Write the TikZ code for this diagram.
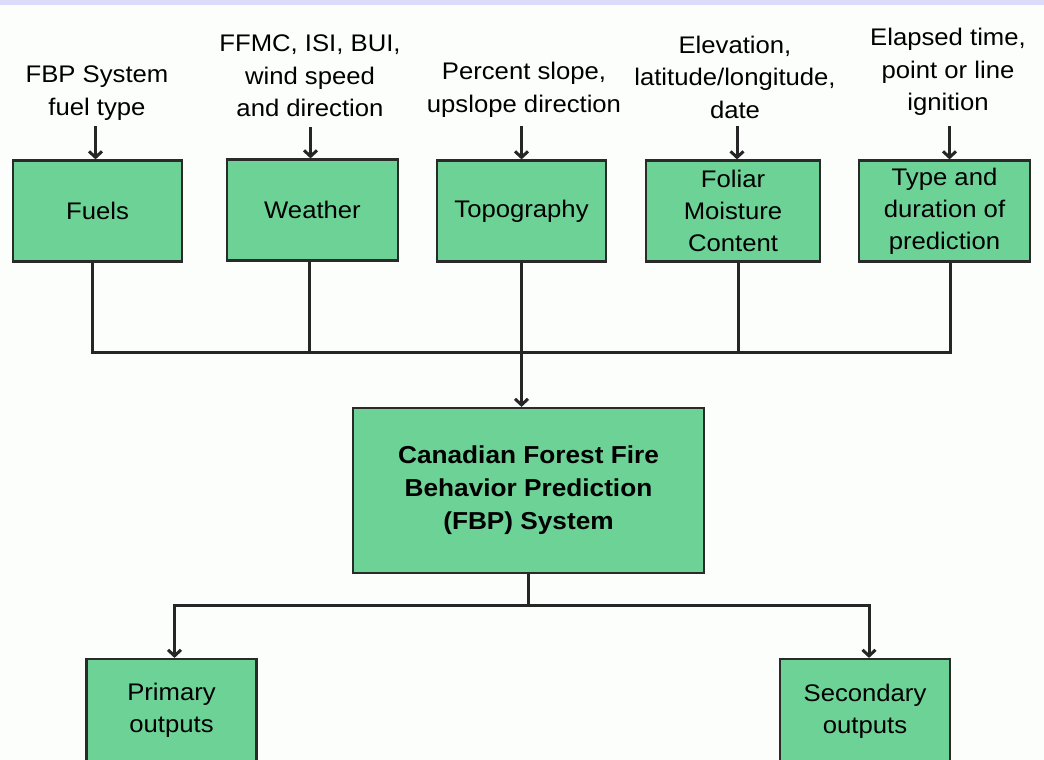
\documentclass[tikz,border=0pt]{standalone}
\usepackage{fontspec}
\setmainfont{Liberation Sans}[FakeStretch=1.07]
\usetikzlibrary{arrows.meta}
\definecolor{boxgreen}{HTML}{6CD295}
\definecolor{bandblue}{HTML}{DCDCFA}
\definecolor{bgwhite}{HTML}{FCFEFC}
\definecolor{edge}{HTML}{2A2A2A}
\tikzset{
  box/.style={draw=edge, line width=2.2pt, fill=boxgreen, align=center, inner sep=0pt,
              font=\fontsize{24}{32}\selectfont},
  lbl/.style={align=center, inner sep=0pt, font=\fontsize{24}{32.5}\selectfont},
  wire/.style={draw=black!85, line width=3pt},
  arr/.style={wire, -{Straight Barb[length=6pt,width=13pt,line width=3pt]}},
}
\begin{document}
\begin{tikzpicture}[x=1pt,y=-1pt]
\clip (0,0) rectangle (1044,760);
\fill[bgwhite] (0,0) rectangle (1044,760);
\fill[bandblue] (0,0) rectangle (1044,5);

% input boxes
\node[box, minimum width=169pt, minimum height=101pt] (fuels) at (97.5,211) {Fuels};
\node[box, minimum width=171pt, minimum height=101pt] (weather) at (312.5,210) {Weather};
\node[box, minimum width=169pt, minimum height=101pt] (topo) at (521.5,211) {Topography};
\node[box, minimum width=174pt, minimum height=101pt] (foliar) at (733,211) {Foliar\\Moisture\\Content};
\node[box, minimum width=171pt, minimum height=101pt] (type) at (944.5,211) {Type and\\duration of\\prediction};

% input labels
\node[lbl] (lfuels) at (97,93) {FBP System\\fuel type};
\node[lbl] (lweather) at (310,76) {FFMC, ISI, BUI,\\wind speed\\and direction};
\node[lbl] (ltopo) at (524,90) {Percent slope,\\upslope direction};
\node[lbl] (lfoliar) at (735,77) {Elevation,\\latitude/longitude,\\date};
\node[lbl] (ltype) at (948,72) {Elapsed time,\\point or line\\ignition};

% input arrows
\draw[arr] (fuels.north) ++(-2,-33) -- ++(0,33);
\draw[arr] (weather.north) ++(-2,-31) -- ++(0,31);
\draw[arr] (topo.north) ++(0,-33) -- (topo.north);
\draw[arr] (foliar.north) ++(4,-33) -- ++(0,33);
\draw[arr] (type.north) ++(5,-33) -- ++(0,33);

% central system box
\node[box, minimum width=351pt, minimum height=165pt,
      font=\bfseries\fontsize{24.5}{33}\selectfont] (fbp) at (528.5,490.5)
      {Canadian Forest Fire\\Behavior Prediction\\(FBP) System};

% collector
\coordinate (jf) at (92,352);
\coordinate (jt) at (950,352);
\coordinate (jm) at (521.5,352);
\draw[wire] (fuels.south -| jf) -- (jf) -- (jt) -- (type.south -| jt);
\draw[wire] ([xshift=-3pt]weather.south) -- ([xshift=-3pt]weather.south |- jm);
\draw[wire] ([xshift=5pt]foliar.south) -- ([xshift=5pt]foliar.south |- jm);
\draw[wire] (topo.south) -- (jm);
\draw[arr] (jm) -- (jm |- fbp.north);

% output boxes
\node[box, minimum width=170pt, minimum height=103pt] (prim) at (171.5,710.5) {Primary\\outputs};
\node[box, minimum width=170pt, minimum height=105pt] (sec) at (865,711.5) {Secondary\\outputs};

% distributor
\coordinate (jo) at (528,605);
\draw[wire] (fbp.south -| jo) -- (jo);
\draw[arr] (jo) -| ([xshift=3pt]prim.north);
\draw[arr] (jo) -| ([xshift=4pt]sec.north);
\end{tikzpicture}
\end{document}
